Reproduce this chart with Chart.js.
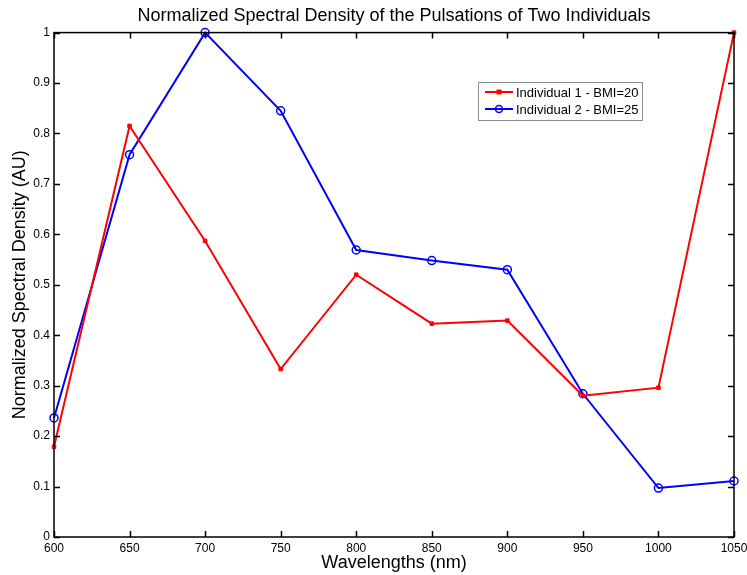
<!DOCTYPE html>
<html>
<head>
<meta charset="utf-8">
<script src="https://cdn.jsdelivr.net/npm/chart.js@4"></script>
<style>
  html, body { margin: 0; padding: 0; background: #fff; }
  #wrap { width: 747px; height: 575px; }
</style>
</head>
<body>
<div id="wrap"><canvas id="spectrumChart"></canvas></div>
<script>
const wavelengths = [600, 650, 700, 750, 800, 850, 900, 950, 1000, 1050];
const individual1 = [0.179, 0.815, 0.587, 0.333, 0.520, 0.423, 0.429, 0.280, 0.296, 1.0];
const individual2 = [0.236, 0.758, 1.0, 0.845, 0.569, 0.548, 0.530, 0.284, 0.097, 0.111];
const seriesNames = ['Individual 1 - BMI=20', 'Individual 2 - BMI=25'];

const FONT = 'Arial, "Liberation Sans", sans-serif';

// MATLAB style box with inward ticks + boxed legend
const matlabBox = {
    id: 'matlabBox',
    afterDraw(chart) {
        const ctx = chart.ctx;
        const a = chart.chartArea;
        const xs = chart.scales.x, ys = chart.scales.y;
        ctx.save();
        ctx.strokeStyle = '#000';
        ctx.lineWidth = 1.5;
        ctx.strokeRect(a.left, a.top, a.right - a.left, a.bottom - a.top);
        ctx.beginPath();
        xs.ticks.forEach(t => {
            const px = Math.round(xs.getPixelForValue(t.value)) + 0.5;
            ctx.moveTo(px, a.bottom); ctx.lineTo(px, a.bottom - 6);
            ctx.moveTo(px, a.top); ctx.lineTo(px, a.top + 6);
        });
        ys.ticks.forEach(t => {
            const py = Math.round(ys.getPixelForValue(t.value)) + 0.5;
            ctx.moveTo(a.left, py); ctx.lineTo(a.left + 6, py);
            ctx.moveTo(a.right, py); ctx.lineTo(a.right - 6, py);
        });
        ctx.stroke();

        // legend
        const lx = 478, ly = 82, lw = 164, lh = 38;
        ctx.fillStyle = '#fff';
        ctx.fillRect(lx, ly, lw, lh);
        ctx.strokeStyle = '#8c8c8c';
        ctx.lineWidth = 1;
        ctx.strokeRect(lx + 0.5, ly + 0.5, lw, lh);
        ctx.font = '13px ' + FONT;
        ctx.textBaseline = 'middle';
        chart.data.datasets.forEach((ds, i) => {
            const y = ly + 10 + i * 17;
            ctx.strokeStyle = ds.borderColor;
            ctx.lineWidth = 2;
            ctx.beginPath();
            ctx.moveTo(lx + 7, y); ctx.lineTo(lx + 35, y);
            ctx.stroke();
            if (i === 0) {
                ctx.fillStyle = ds.borderColor;
                ctx.fillRect(lx + 18.5, y - 2.5, 5, 5);
            } else {
                ctx.lineWidth = 1.5;
                ctx.beginPath();
                ctx.arc(lx + 21, y, 3.5, 0, Math.PI * 2);
                ctx.stroke();
            }
            ctx.fillStyle = '#000';
            ctx.fillText(ds.label, lx + 38, y + 1);
        });
        ctx.restore();
    }
};

new Chart(document.getElementById('spectrumChart'), {
    type: 'line',
    data: {
        datasets: [{
            label: seriesNames[0],
            data: wavelengths.map((w, i) => ({ x: w, y: individual1[i] })),
            borderColor: '#ff0000',
            backgroundColor: '#ff0000',
            borderWidth: 2,
            pointStyle: 'rect',
            pointRadius: 2.5,
            pointBorderWidth: 1,
            tension: 0
        }, {
            label: seriesNames[1],
            data: wavelengths.map((w, i) => ({ x: w, y: individual2[i] })),
            borderColor: '#0000ff',
            backgroundColor: 'rgba(0,0,0,0)',
            borderWidth: 2,
            pointStyle: 'circle',
            pointRadius: 4,
            pointBorderWidth: 1.5,
            tension: 0
        }]
    },
    options: {
        responsive: true,
        maintainAspectRatio: false,
        animation: false,
        clip: false,
        layout: { padding: { left: 0, right: 13, top: 0, bottom: 0 } },
        plugins: {
            legend: { display: false },
            tooltip: { enabled: false },
            title: {
                display: true,
                fullSize: false,
                text: 'Normalized Spectral Density of the Pulsations of Two Individuals',
                color: '#000',
                font: { family: FONT, size: 18, weight: 'normal', lineHeight: 1.2 },
                padding: { top: 5, bottom: 6 }
            }
        },
        scales: {
            x: {
                type: 'linear',
                min: 600,
                max: 1050,
                grid: { display: false, drawTicks: false },
                border: { display: false },
                ticks: {
                    stepSize: 50,
                    padding: 4,
                    color: '#000',
                    maxRotation: 0,
                    autoSkip: false,
                    font: { family: FONT, size: 12 },
                    callback: v => String(v)
                },
                title: {
                    display: true,
                    text: 'Wavelengths (nm)',
                    color: '#000',
                    font: { family: FONT, size: 18 },
                    padding: { top: 0, bottom: 1 }
                },
                afterFit(scale) {
                    scale.height = 38;
                    scale.paddingLeft = 0;
                    scale.paddingRight = 0;
                }
            },
            y: {
                min: 0,
                max: 1,
                grid: { display: false, drawTicks: false },
                border: { display: false },
                ticks: {
                    stepSize: 0.1,
                    padding: 4,
                    color: '#000',
                    font: { family: FONT, size: 12 },
                    callback: v => Number(v.toFixed(1)).toString()
                },
                title: {
                    display: true,
                    text: 'Normalized Spectral Density (AU)',
                    color: '#000',
                    font: { family: FONT, size: 18 },
                    padding: { top: 9, bottom: 0 }
                },
                afterFit(scale) {
                    scale.width = 54;
                    scale.paddingTop = 0;
                    scale.paddingBottom = 0;
                }
            }
        }
    },
    plugins: [matlabBox]
});
</script>
</body>
</html>
